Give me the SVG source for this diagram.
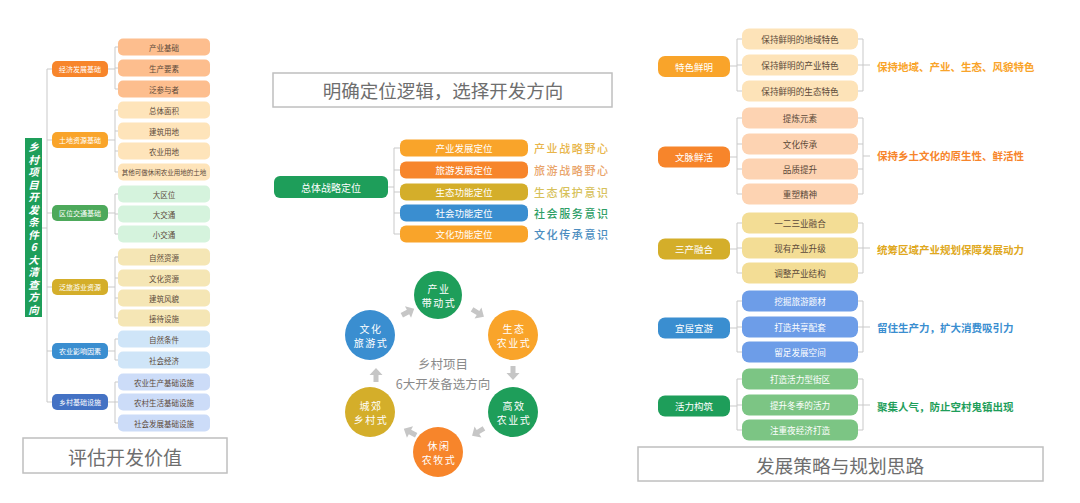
<svg xmlns="http://www.w3.org/2000/svg" width="1080" height="503" viewBox="0 0 1080 503">
<defs>
<style>
text{font-family:"Noto Sans CJK SC","Noto Sans",sans-serif;dominant-baseline:central;text-anchor:middle}
.ln{stroke:#C9C9C9;stroke-width:1;fill:none}
.ttl{fill:#fff;stroke:#BFBFBF;stroke-width:1.5}
.ttt{fill:#6E6E6E;font-size:19px}
.lc{font-size:7px;fill:#fff}
.ll{font-size:7.5px;fill:#5C4A3A}
.mc{font-size:9.5px;fill:#fff}
.ms{font-size:11px;text-anchor:start;letter-spacing:1.6px;font-weight:500}
.rc{font-size:9.5px;fill:#fff}
.rl{font-size:8.6px;fill:#5C4A3A}
.rlw{font-size:8.6px;fill:#fff}
.rs{font-size:10.5px;text-anchor:start;font-weight:bold}
.ct{font-size:10px;fill:#fff;letter-spacing:1.5px}
.vt{font-size:10.5px;fill:#fff;font-weight:bold;font-style:italic;writing-mode:vertical-rl;text-orientation:upright;text-anchor:start;letter-spacing:2px}
.arr{fill:#C6C6C6}
</style>
<path id="ar" d="M-7,-2.5 H0 V-6.5 L7,0 L0,6.5 V2.5 H-7 Z"/>
</defs>

<!-- connectors -->
<g id="connectors">
<path class="ln" d="M42,228 H47 M47,69 V402 M47,69 H52 M47,140 H52 M47,213 H52 M47,287 H52 M47,351 H52 M47,402 H52"/>
<path class="ln" d="M108,69 H115 M115,47 V89 M115,47 H118 M115,68 H118 M115,89 H118"/>
<path class="ln" d="M108,140 H115 M115,110 V172 M115,110 H118 M115,131 H118 M115,151 H118 M115,172 H118"/>
<path class="ln" d="M108,213 H115 M115,194 V234 M115,194 H118 M115,214 H118 M115,234 H118"/>
<path class="ln" d="M108,287 H115 M115,257 V318 M115,257 H118 M115,278 H118 M115,298 H118 M115,318 H118"/>
<path class="ln" d="M108,351 H115 M115,339 V360 M115,339 H118 M115,360 H118"/>
<path class="ln" d="M108,402 H115 M115,382 V423 M115,382 H118 M115,402 H118 M115,423 H118"/>
<path class="ln" d="M388,187 H394 M394,148 V234 M394,148 H400 M394,170 H400 M394,192 H400 M394,213 H400 M394,234 H400"/>
<path class="ln" d="M730,66 H737 M737,39 V91 M737,39 H742 M737,65 H742 M737,91 H742 M858,39 H863 M858,65 H863 M858,91 H863 M863,39 V91 M863,65 H870"/>
<path class="ln" d="M730,157 H737 M737,118 V194 M737,118 H742 M737,144 H742 M737,169 H742 M737,194 H742 M858,118 H863 M858,144 H863 M858,169 H863 M858,194 H863 M863,118 V194 M863,156 H870"/>
<path class="ln" d="M730,249 H737 M737,223 V273 M737,223 H742 M737,248 H742 M737,273 H742 M858,223 H863 M858,248 H863 M858,273 H863 M863,223 V273 M863,248 H870"/>
<path class="ln" d="M730,328 H737 M737,301 V352 M737,301 H742 M737,327 H742 M737,352 H742 M858,301 H863 M858,327 H863 M858,352 H863 M863,301 V352 M863,327 H870"/>
<path class="ln" d="M730,406 H737 M737,379 V430 M737,379 H742 M737,405 H742 M737,430 H742 M858,379 H863 M858,405 H863 M858,430 H863 M863,379 V430 M863,405 H870"/>
<use href="#ar" class="arr" transform="translate(408,312) rotate(-28)"/>
<use href="#ar" class="arr" transform="translate(478,313) rotate(32)"/>
<use href="#ar" class="arr" transform="translate(513,373) rotate(90)"/>
<use href="#ar" class="arr" transform="translate(478,432) rotate(148)"/>
<use href="#ar" class="arr" transform="translate(410,432) rotate(208)"/>
<use href="#ar" class="arr" transform="translate(376,375) rotate(270)"/>
</g>

<!-- LEFT PANEL -->
<g id="left-title">
<rect x="25" y="138" width="17" height="179" fill="#1E9E5A"/>
<text class="vt" x="33.5" y="142">乡村项目开发条件6大清查方向</text>
</g>

<g id="cat-economy">
<rect x="52" y="61" width="56" height="16" rx="5" fill="#F7852B"/><text class="lc" x="80" y="69">经济发展基础</text>
<rect x="118" y="38.5" width="92" height="17" rx="5" fill="#FDBE8E"/><text class="ll" x="164" y="47">产业基础</text>
<rect x="118" y="59.5" width="92" height="17" rx="5" fill="#FDBE8E"/><text class="ll" x="164" y="68">生产要素</text>
<rect x="118" y="80.5" width="92" height="17" rx="5" fill="#FDBE8E"/><text class="ll" x="164" y="89">泛参与者</text>
</g>
<g id="cat-land">
<rect x="52" y="132" width="56" height="16" rx="5" fill="#F9A42A"/><text class="lc" x="80" y="140">土地资源基础</text>
<rect x="118" y="101.5" width="92" height="17" rx="5" fill="#FEE4BA"/><text class="ll" x="164" y="110">总体面积</text>
<rect x="118" y="122.5" width="92" height="17" rx="5" fill="#FEE4BA"/><text class="ll" x="164" y="131">建筑用地</text>
<rect x="118" y="142.5" width="92" height="17" rx="5" fill="#FEE4BA"/><text class="ll" x="164" y="151">农业用地</text>
<rect x="118" y="163.5" width="92" height="17" rx="5" fill="#FEE4BA"/><text class="ll" x="164" y="172" style="font-size:6.5px">其他可做休闲农业用地的土地</text>
</g>
<g id="cat-location">
<rect x="52" y="205" width="56" height="16" rx="5" fill="#4DA95B"/><text class="lc" x="80" y="213">区位交通基础</text>
<rect x="118" y="185.5" width="92" height="17" rx="5" fill="#D5F3DD"/><text class="ll" x="164" y="194">大区位</text>
<rect x="118" y="205.5" width="92" height="17" rx="5" fill="#D5F3DD"/><text class="ll" x="164" y="214">大交通</text>
<rect x="118" y="225.5" width="92" height="17" rx="5" fill="#D5F3DD"/><text class="ll" x="164" y="234">小交通</text>
</g>
<g id="cat-tourism">
<rect x="52" y="279" width="56" height="16" rx="5" fill="#D4AE2A"/><text class="lc" x="80" y="287">泛旅游业资源</text>
<rect x="118" y="248.5" width="92" height="17" rx="5" fill="#F5E6B5"/><text class="ll" x="164" y="257">自然资源</text>
<rect x="118" y="269.5" width="92" height="17" rx="5" fill="#F5E6B5"/><text class="ll" x="164" y="278">文化资源</text>
<rect x="118" y="289.5" width="92" height="17" rx="5" fill="#F5E6B5"/><text class="ll" x="164" y="298">建筑风貌</text>
<rect x="118" y="309.5" width="92" height="17" rx="5" fill="#F5E6B5"/><text class="ll" x="164" y="318">接待设施</text>
</g>
<g id="cat-agri">
<rect x="52" y="343" width="56" height="16" rx="5" fill="#3A8ED0"/><text class="lc" x="80" y="351">农业影响因素</text>
<rect x="118" y="330.5" width="92" height="17" rx="5" fill="#CFE5F8"/><text class="ll" x="164" y="339">自然条件</text>
<rect x="118" y="351.5" width="92" height="17" rx="5" fill="#CFE5F8"/><text class="ll" x="164" y="360">社会经济</text>
</g>
<g id="cat-infra">
<rect x="52" y="394" width="56" height="16" rx="5" fill="#4472C4"/><text class="lc" x="80" y="402">乡村基础设施</text>
<rect x="118" y="373.5" width="92" height="17" rx="5" fill="#CCDCF8"/><text class="ll" x="164" y="382">农业生产基础设施</text>
<rect x="118" y="393.5" width="92" height="17" rx="5" fill="#CCDCF8"/><text class="ll" x="164" y="402">农村生活基础设施</text>
<rect x="118" y="414.5" width="92" height="17" rx="5" fill="#CCDCF8"/><text class="ll" x="164" y="423">社会发展基础设施</text>
</g>
<g id="title-left">
<rect class="ttl" x="23" y="438" width="204" height="35"/><text class="ttt" x="125" y="456">评估开发价值</text>
</g>

<!-- MIDDLE -->
<g id="title-mid">
<rect class="ttl" x="273" y="73" width="339" height="34"/><text class="ttt" x="443" y="90" style="font-size:18.5px">明确定位逻辑，选择开发方向</text>
</g>
<g id="strategy-root">
<rect x="274" y="176" width="114" height="22" rx="6" fill="#1E9E5A"/><text class="mc" x="331" y="187" style="font-size:10px">总体战略定位</text>
</g>
<g id="pos-industry">
<rect x="400" y="139.5" width="128" height="17" rx="6" fill="#F9A42A"/><text class="mc" x="464" y="148">产业发展定位</text>
<text class="ms" x="534" y="148" fill="#E8B54A">产业战略野心</text>
</g>
<g id="pos-tourism">
<rect x="400" y="161.5" width="128" height="17" rx="6" fill="#F7852B"/><text class="mc" x="464" y="170">旅游发展定位</text>
<text class="ms" x="534" y="170" fill="#E9A46A">旅游战略野心</text>
</g>
<g id="pos-eco">
<rect x="400" y="183.5" width="128" height="17" rx="6" fill="#D4AE2A"/><text class="mc" x="464" y="192">生态功能定位</text>
<text class="ms" x="534" y="192" fill="#D7C15A">生态保护意识</text>
</g>
<g id="pos-social">
<rect x="400" y="204.5" width="128" height="17" rx="6" fill="#3A8ED0"/><text class="mc" x="464" y="213">社会功能定位</text>
<text class="ms" x="534" y="213" fill="#2E9E66">社会服务意识</text>
</g>
<g id="pos-culture">
<rect x="400" y="225.5" width="128" height="17" rx="6" fill="#F9A42A"/><text class="mc" x="464" y="234">文化功能定位</text>
<text class="ms" x="534" y="234" fill="#4B8DC0">文化传承意识</text>
</g>

<g id="cycle-center">
<text x="443" y="363" font-size="12.5" fill="#8A8A8A">乡村项目</text>
<text x="443" y="383" font-size="12.5" fill="#8A8A8A">6大开发备选方向</text>
</g>
<g id="c-industry"><circle cx="438" cy="295" r="24" fill="#1E9E5A"/><text class="ct" x="439" y="288">产业</text><text class="ct" x="439" y="302">带动式</text></g>
<g id="c-eco"><circle cx="513" cy="335" r="25" fill="#F9A42A"/><text class="ct" x="514" y="328">生态</text><text class="ct" x="514" y="342">农业式</text></g>
<g id="c-eff"><circle cx="513" cy="412" r="25" fill="#1E9E5A"/><text class="ct" x="514" y="405">高效</text><text class="ct" x="514" y="419">农业式</text></g>
<g id="c-leisure"><circle cx="438" cy="452" r="25" fill="#F7852B"/><text class="ct" x="439" y="445">休闲</text><text class="ct" x="439" y="459">农牧式</text></g>
<g id="c-suburb"><circle cx="370" cy="412" r="25" fill="#D4AE2A"/><text class="ct" x="371" y="405">城郊</text><text class="ct" x="371" y="419">乡村式</text></g>
<g id="c-culture"><circle cx="370" cy="335" r="25" fill="#3A8ED0"/><text class="ct" x="371" y="328">文化</text><text class="ct" x="371" y="342">旅游式</text></g>

<!-- RIGHT -->
<g id="r-feature">
<rect x="658" y="56" width="72" height="21" rx="7" fill="#F9A42A"/><text class="rc" x="694" y="66.5">特色鲜明</text>
<rect x="742" y="28.5" width="116" height="21" rx="7" fill="#FDE3B8"/><text class="rl" x="800" y="39">保持鲜明的地域特色</text>
<rect x="742" y="54.5" width="116" height="21" rx="7" fill="#FDE3B8"/><text class="rl" x="800" y="65">保持鲜明的产业特色</text>
<rect x="742" y="80.5" width="116" height="21" rx="7" fill="#FDE3B8"/><text class="rl" x="800" y="91">保持鲜明的生态特色</text>
<text class="rs" x="877" y="66" fill="#F9A42A">保持地域、产业、生态、风貌特色</text>
</g>
<g id="r-culture">
<rect x="658" y="146.5" width="72" height="21" rx="7" fill="#F7852B"/><text class="rc" x="694" y="157">文脉鲜活</text>
<rect x="742" y="107.5" width="116" height="21" rx="7" fill="#FDD3B2"/><text class="rl" x="800" y="118">提炼元素</text>
<rect x="742" y="133.5" width="116" height="21" rx="7" fill="#FDD3B2"/><text class="rl" x="800" y="144">文化传承</text>
<rect x="742" y="158.5" width="116" height="21" rx="7" fill="#FDD3B2"/><text class="rl" x="800" y="169">品质提升</text>
<rect x="742" y="183.5" width="116" height="21" rx="7" fill="#FDD3B2"/><text class="rl" x="800" y="194">重塑精神</text>
<text class="rs" x="877" y="155" fill="#F7852B">保持乡土文化的原生性、鲜活性</text>
</g>
<g id="r-industry">
<rect x="658" y="238.5" width="72" height="21" rx="7" fill="#D4AE2A"/><text class="rc" x="694" y="249">三产融合</text>
<rect x="742" y="212.5" width="116" height="21" rx="7" fill="#F3DD95"/><text class="rl" x="800" y="223">一二三业融合</text>
<rect x="742" y="237.5" width="116" height="21" rx="7" fill="#F3DD95"/><text class="rl" x="800" y="248">现有产业升级</text>
<rect x="742" y="262.5" width="116" height="21" rx="7" fill="#F3DD95"/><text class="rl" x="800" y="273">调整产业结构</text>
<text class="rs" x="877" y="249" fill="#E0A820">统筹区域产业规划保障发展动力</text>
</g>
<g id="r-living">
<rect x="658" y="317.5" width="72" height="21" rx="7" fill="#3A8ED0"/><text class="rc" x="694" y="328">宜居宜游</text>
<rect x="742" y="290.5" width="116" height="21" rx="7" fill="#6D9DE8"/><text class="rlw" x="800" y="301">挖掘旅游题材</text>
<rect x="742" y="316.5" width="116" height="21" rx="7" fill="#6D9DE8"/><text class="rlw" x="800" y="327">打造共享配套</text>
<rect x="742" y="341.5" width="116" height="21" rx="7" fill="#6D9DE8"/><text class="rlw" x="800" y="352">留足发展空间</text>
<text class="rs" x="877" y="327" fill="#3A8ED0">留住生产力，扩大消费吸引力</text>
</g>
<g id="r-vitality">
<rect x="658" y="395.5" width="72" height="21" rx="7" fill="#1E9E5A"/><text class="rc" x="694" y="406">活力构筑</text>
<rect x="742" y="368.5" width="116" height="21" rx="7" fill="#7CC584"/><text class="rlw" x="800" y="379">打造活力型街区</text>
<rect x="742" y="394.5" width="116" height="21" rx="7" fill="#7CC584"/><text class="rlw" x="800" y="405">提升冬季的活力</text>
<rect x="742" y="419.5" width="116" height="21" rx="7" fill="#7CC584"/><text class="rlw" x="800" y="430">注重夜经济打造</text>
<text class="rs" x="877" y="406" fill="#1E9E5A">聚集人气，防止空村鬼镇出现</text>
</g>
<g id="title-right">
<rect class="ttl" x="638" y="447" width="405" height="34"/><text class="ttt" x="840" y="464" style="font-size:18.7px">发展策略与规划思路</text>
</g>
</svg>
